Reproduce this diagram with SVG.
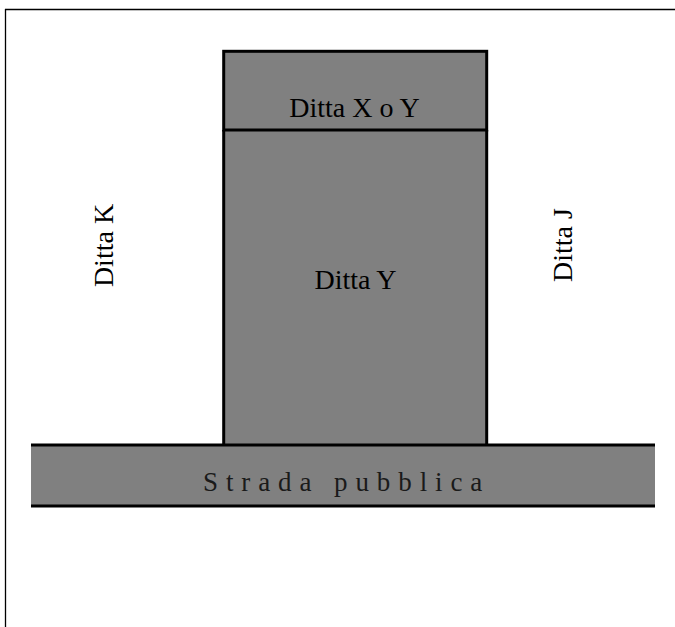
<svg xmlns="http://www.w3.org/2000/svg" width="675" height="627" viewBox="0 0 675 627">
<style>
.frame{stroke:#000;stroke-width:1.3;fill:none}
.edge{stroke:#000;stroke-width:3;fill:none}
.fill{fill:#808080}
.lbl{font-family:"Liberation Serif","DejaVu Serif",serif;font-size:28px;fill:#000}
.road{font-family:"Liberation Serif","DejaVu Serif",serif;font-size:27px;fill:#1a1a1a;letter-spacing:7.9px}
</style>
<rect width="675" height="627" fill="#fff"/>
<g id="frame">
<line class="frame" x1="5" y1="9.5" x2="675" y2="9.5"/>
<line class="frame" x1="5.5" y1="9" x2="5.5" y2="627"/>
</g>
<g id="ditta-y">
<rect class="fill" x="223.7" y="130" width="263" height="315"/>
<path class="edge" d="M223.7,130 V445 M486.7,130 V445"/>
<text class="lbl" x="355.5" y="289" text-anchor="middle">Ditta Y</text>
</g>
<g id="ditta-xy">
<rect class="fill" x="223.7" y="51.3" width="263" height="78.7"/>
<rect class="edge" x="223.7" y="51.3" width="263" height="78.7"/>
<text class="lbl" x="354.5" y="117" text-anchor="middle">Ditta X o Y</text>
</g>
<g id="ditta-k">
<text class="lbl" transform="translate(113,245.5) rotate(-90)" text-anchor="middle">Ditta K</text>
</g>
<g id="ditta-j">
<text class="lbl" transform="translate(572,245) rotate(-90)" text-anchor="middle">Ditta J</text>
</g>
<g id="strada">
<rect class="fill" x="31" y="445" width="624" height="61"/>
<path class="edge" d="M31,445 H655 M31,506 H655"/>
<text class="road" x="203" y="491">Strada pubblica</text>
</g>
<g id="connectors"/>
</svg>
